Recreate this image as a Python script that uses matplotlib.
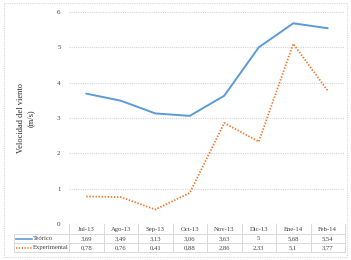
import numpy as np
import matplotlib.pyplot as plt
from matplotlib.patches import Rectangle
from matplotlib.lines import Line2D
from matplotlib.transforms import blended_transform_factory

plt.rcParams['font.family'] = ['Liberation Serif', 'DejaVu Serif']

meses = ['Jul-13', 'Ago-13', 'Sep-13', 'Oct-13', 'Nov-13', 'Dic-13', 'Ene-14', 'Feb-14']
teorico = [3.69, 3.49, 3.13, 3.06, 3.63, 5, 5.68, 5.54]
experimental = [0.78, 0.76, 0.41, 0.88, 2.86, 2.33, 5.1, 3.77]

W, H = 351, 260
fig = plt.figure(figsize=(W / 100, H / 100), dpi=100)


def fx(px):
    return px / W


def fy(py):
    return 1 - py / H


ax = fig.add_axes([fx(69), fy(224), fx(345) - fx(69), fy(12) - fy(224)])
x = np.arange(len(meses))
azul = '#5b9bd5'
naranja = '#ed7d31'
gris = '#d9d9d9'

ax.plot(x, teorico, color=azul, lw=1.4, solid_capstyle='round')
ax.plot(x, experimental, color=naranja, lw=1.3, ls=(0, (0.8, 0.9)))
ax.set_xlim(-0.5, len(meses) - 0.5)
ax.set_ylim(0, 6)
ax.set_yticks(range(7))
ax.set_xticks([])
ax.grid(axis='y', color='#d4d4d4', lw=0.8, ls=(0, (1, 1)))
ax.set_axisbelow(True)
for s in ax.spines.values():
    s.set_visible(False)
ax.tick_params(axis='y', length=0, labelsize=5, pad=6, colors='#404040')
ax.set_ylabel('Velocidad del viento\n(m/s)', fontsize=6, color='#262626', labelpad=16,
              linespacing=1.3)

# tabla de datos bajo el eje
tr = blended_transform_factory(ax.transData, fig.transFigure)
fs = 4.8
filas = [('Teórico', teorico, azul, '-'), ('Experimental', experimental, naranja, ':')]
ytxt = [fy(229.5), fy(238.5), fy(247.5)]
for i, m in enumerate(meses):
    ax.text(i, ytxt[0], m, transform=tr, ha='center', va='center', fontsize=fs, color='#404040')
    for j, (nombre, vals, c, ls) in enumerate(filas):
        ax.text(i, ytxt[j + 1], str(vals[i]).replace('.', ','), transform=tr,
                ha='center', va='center', fontsize=fs, color='#404040')

for i in range(len(meses) + 1):
    fig.add_artist(Line2D([i - 0.5, i - 0.5], [fy(224), fy(252)], transform=tr,
                          color=gris, lw=0.7))
for py in [234, 243, 252]:
    fig.add_artist(Line2D([fx(14), fx(345)], [fy(py), fy(py)], color=gris, lw=0.7))
fig.add_artist(Line2D([fx(14), fx(14)], [fy(234), fy(252)], color=gris, lw=0.7))

for j, (nombre, vals, c, ls) in enumerate(filas):
    yy = ytxt[j + 1]
    fig.add_artist(Line2D([fx(16), fx(32)], [yy, yy], color=c, lw=1.2,
                          ls='-' if ls == '-' else (0, (0.8, 0.9))))
    fig.text(fx(33), yy, nombre, ha='left', va='center', fontsize=fs, color='#404040')

fig.add_artist(Rectangle((fx(3.5), fy(257)), fx(347) - fx(3.5), fy(3.5) - fy(257),
                         fill=False, ec=gris, lw=0.8, ls=(0, (1, 1)),
                         transform=fig.transFigure))

fig.savefig('out.png', dpi=100)
